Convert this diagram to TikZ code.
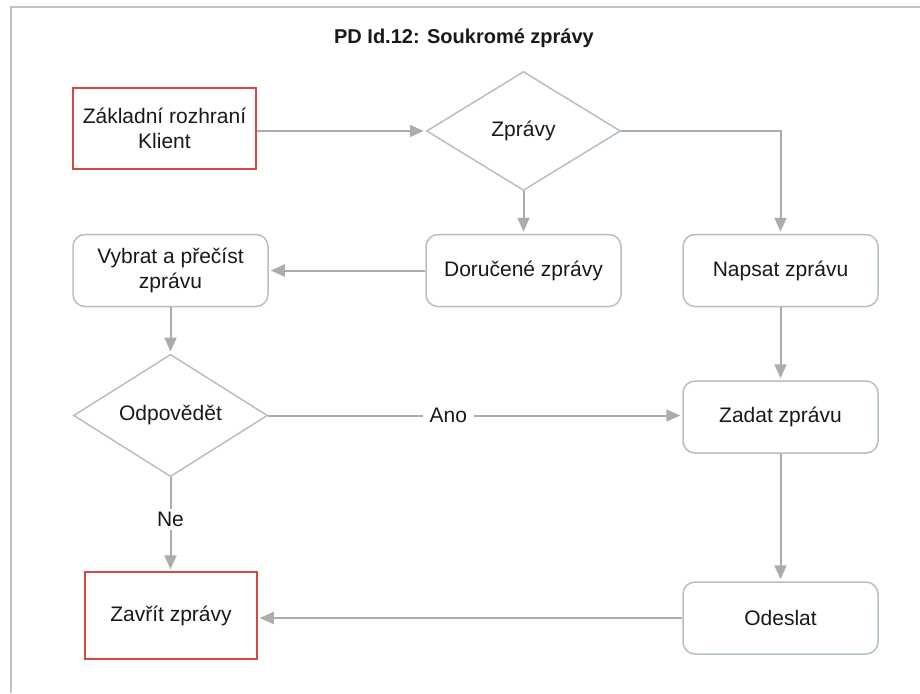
\documentclass[tikz,border=0pt]{standalone}
\usepackage{fontspec}
\setmainfont{Liberation Sans}
\usetikzlibrary{shapes.geometric,arrows.meta}
\definecolor{edgegrey}{RGB}{172,172,172}
\definecolor{shapeline}{RGB}{178,194,194}
\definecolor{termred}{RGB}{210,74,66}
\definecolor{frameline}{RGB}{192,192,192}
\definecolor{ink}{RGB}{25,25,25}

\begin{document}
\begin{tikzpicture}[x=1pt,y=-1pt,
  every node/.style={font=\fontsize{21}{25}\selectfont, text=ink},
  action/.style={draw=shapeline, line width=1.5pt, rounded corners=12pt,
    minimum width=195pt, minimum height=72pt, inner sep=0pt, align=center},
  terminal/.style={draw=termred, line width=1.5pt, inner sep=0pt, align=center},
  decision/.style={draw=shapeline, line width=1.5pt, diamond, inner sep=0pt,
    minimum width=194pt, minimum height=119pt, align=center},
  flow/.style={draw=edgegrey, line width=2pt, shorten >=2pt,
    -{Triangle[length=14pt,width=12pt]}},
  tag/.style={fill=white, inner xsep=7pt, inner ysep=3pt}
]
% page area and the partial frame
\useasboundingbox (0,0) rectangle (920,693);
\fill[white] (0,0) rectangle (920,693);
\draw[frameline, line width=2pt] (10.5,693) -- (10.5,7) -- (920,7);

% title
\node[font=\bfseries\fontsize{20}{24}\selectfont] (title) at (464,38) {PD Id.12: Soukromé zprávy};

% nodes
\node[terminal, minimum width=183pt, minimum height=81pt] (basic) at (164.5,128.5) {Základní rozhraní\\Klient};
\node[decision] (msgs) at (523.5,131) {Zprávy};
\node[action] (inbox) at (523.5,270.5) {Doručené zprávy};
\node[action] (write) at (780.5,270.5) {Napsat zprávu};
\node[action] (read) at (170.5,270.5) {Vybrat a přečíst\\zprávu};
\node[decision] (reply) at (170.5,415.5) {Odpovědět};
\node[action] (enter) at (780.5,417) {Zadat zprávu};
\node[action] (send) at (780.5,618) {Odeslat};
\node[terminal, minimum width=172pt, minimum height=87pt] (close) at (171,615.5) {Zavřít zprávy};

% connectors
\draw[flow] (basic.east |- msgs.west) -- (msgs.west);
\draw[flow] (msgs.south) -- (inbox.north);
\draw[flow] (msgs.east) -| (write.north);
\draw[flow] (inbox.west) -- (inbox.west -| read.east);
\draw[flow] (read.south) -- (reply.north);
\draw[flow] (write.south) -- (enter.north);
\draw[flow] (reply.east) -- node[tag, pos=0.435] {Ano} (reply.east -| enter.west);
\draw[flow] (enter.south) -- (send.north);
\draw[flow] (reply.south) -- node[tag, pos=0.45] {Ne} (reply.south |- close.north);
\draw[flow] (send.west) -- (send.west -| close.east);
\end{tikzpicture}
\end{document}
